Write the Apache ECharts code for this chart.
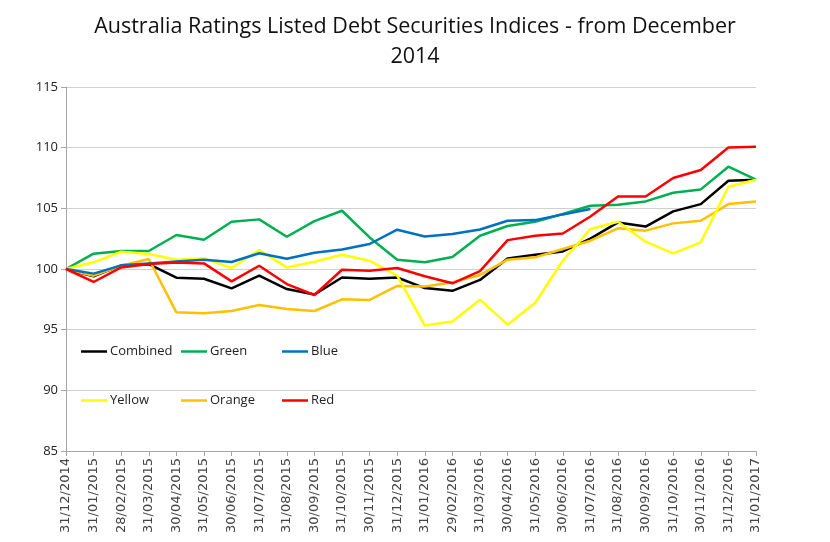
<!DOCTYPE html>
<html><head><meta charset="utf-8">
<script src="https://cdn.jsdelivr.net/npm/echarts@6/dist/echarts.min.js"></script>
<style>html,body{margin:0;padding:0;background:#fff}#c{width:830px;height:542px}</style>
</head><body><div id="c"></div>
<script>
const categories = ["31/12/2014","31/01/2015","28/02/2015","31/03/2015","30/04/2015","31/05/2015","30/06/2015","31/07/2015","31/08/2015","30/09/2015","31/10/2015","30/11/2015","31/12/2015","31/01/2016","29/02/2016","31/03/2016","30/04/2016","31/05/2016","30/06/2016","31/07/2016","31/08/2016","30/09/2016","31/10/2016","30/11/2016","31/12/2016","31/01/2017"];
const combined = [100,99.4,100.3,100.4,99.28,99.2,98.4,99.45,98.35,97.9,99.3,99.2,99.3,98.43,98.2,99.1,100.87,101.18,101.45,102.5,103.84,103.5,104.75,105.35,107.27,107.36];
const green = [100,101.26,101.48,101.48,102.8,102.41,103.9,104.09,102.66,103.95,104.8,102.6,100.77,100.55,100.99,102.74,103.54,103.9,104.53,105.21,105.3,105.57,106.28,106.56,108.43,107.36];
const blue = [100,99.62,100.3,100.46,100.62,100.77,100.58,101.3,100.85,101.34,101.6,102.06,103.24,102.68,102.88,103.26,103.98,104.03,104.5,104.94,null,null,null,null,null,null];
const yellow = [100,100.55,101.42,101.24,100.77,100.87,100.08,101.56,100.13,100.6,101.18,100.68,99.45,95.34,95.68,97.47,95.41,97.22,100.68,103.3,103.9,102.25,101.29,102.2,106.78,107.36];
const orange = [100,99.45,100.27,100.82,96.43,96.35,96.54,97.03,96.7,96.54,97.5,97.45,98.6,98.56,98.9,99.5,100.77,100.96,101.65,102.33,103.35,103.16,103.76,103.98,105.35,105.57];
const red = [100,98.93,100.13,100.41,100.54,100.46,98.98,100.27,98.76,97.86,99.94,99.86,100.08,99.4,98.82,99.83,102.38,102.74,102.93,104.33,105.98,105.98,107.5,108.16,110.02,110.08];
const yTicks = {min:85, max:115, interval:5};

const names = ["Combined","Green","Blue","Yellow","Orange","Red"];
const colors = ["#000000","#00b050","#0070c0","#ffff00","#ffc000","#ff0000"];
const datas = [combined, green, blue, yellow, orange, red];
const legendPos = [[76,340],[176,340],[277,340],[76,389],[176,389],[277,389]];

const chart = echarts.init(document.getElementById('c'));
chart.setOption({
  backgroundColor:'#fff',
  animation:false,
  title:{text:"Australia Ratings Listed Debt Securities Indices - from December\n2014",
    left:'center', top:7,
    textStyle:{fontFamily:'Open Sans', fontSize:21.5, fontWeight:'normal', color:'#111', lineHeight:30}},
  legend: names.map((n,i)=>({data:[n], left:legendPos[i][0], top:legendPos[i][1],
    icon:'rect', itemWidth:26, itemHeight:2.5, itemGap:4,
    textStyle:{fontFamily:'Open Sans', fontSize:13, color:'#222', padding:[0,0,0,-2]}})),
  grid:{left:66, right:74, top:87, bottom:91},
  xAxis:{type:'category', data:categories, boundaryGap:false,
    axisLine:{lineStyle:{color:'#a6a6a6'}},
    axisTick:{show:true, alignWithLabel:true, length:5, lineStyle:{color:'#a6a6a6'}},
    axisLabel:{rotate:90, interval:0, fontFamily:'DejaVu Sans', fontSize:13, color:'#444', margin:7}},
  yAxis:{type:'value', min:yTicks.min, max:yTicks.max, interval:yTicks.interval,
    axisLine:{show:true, lineStyle:{color:'#a6a6a6'}},
    axisTick:{show:true, length:5, lineStyle:{color:'#a6a6a6'}},
    splitLine:{lineStyle:{color:'#d0d0d0'}},
    axisLabel:{fontFamily:'Open Sans', fontSize:13, color:'#222', margin:8}},
  series: names.map((n,i)=>({name:n, type:'line', data:datas[i], showSymbol:false, symbol:'none',
    lineStyle:{color:colors[i], width:2.5}, itemStyle:{color:colors[i]}, connectNulls:false, z:[2,3,4,3,2,5][i]}))
});
</script></body></html>
